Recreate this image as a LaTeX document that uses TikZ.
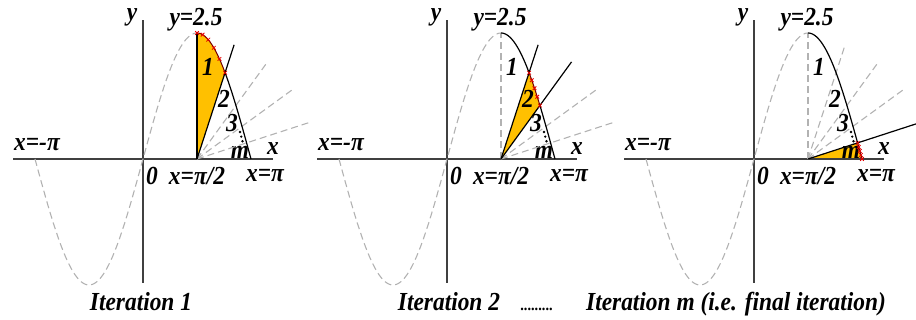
\documentclass[tikz,border=0pt]{standalone}
\usepackage{fontspec}
\setmainfont{Liberation Serif}
\newfontfamily\lblfont{Liberation Serif}[FakeStretch=0.9]
\definecolor{slicefill}{RGB}{255,192,0}

\begin{document}
\begin{tikzpicture}[
    x=0.5pt, y=0.5pt,
    font=\lblfont\bfseries\itshape\fontsize{13}{15}\selectfont,
    every node/.style={inner sep=0pt},
    axis/.style={black!75, line width=0.65pt},
    guide/.style={gray!60, dash pattern=on 3.5pt off 2pt, line width=0.55pt},
    solidline/.style={black, line width=0.6pt},
    hitline/.style={red!45!black, line width=0.5pt},
    hitmarks/.style={red!90!black, only marks, mark=x, mark size=1.3pt,
                     line width=0.4pt},
    slice/.style={fill=slicefill},
    dotcol/.style={black, line width=1.3pt, line cap=round,
                   dash pattern=on 0pt off 2.4pt},
    caption/.style={anchor=base},
]
\pgfdeclarelayer{bg}
\pgfsetlayers{bg,main}
\useasboundingbox (0,0) rectangle (916,320);

% Common parts of the three panels: axes, sine curve, labels
\foreach \p/\ox in {1/143, 2/447, 3/754}{
  \begin{scope}[shift={(\ox,161)}]
    \coordinate (o\p) at (0,0);
    \coordinate (h\p) at (54,0);
    \draw[axis] (-130,0) -- (130,0);
    \draw[axis] (0,-124) -- (0,139);
    \draw[guide] plot[domain=-180:90, samples=100] (\x*0.6, {126*sin(\x)});
    \node (ylab\p) at (-11,142) {y};
    \node (ytop\p) at (53,139) {y=2.5};
    \node (xlab\p) at (130,10) {x};
    \node (xneg\p) at (-106,14) {x=-π};
    \node (zero\p) at (9,-17) {0};
    \node (xhalf\p) at (54,-17) {x=π/2};
    \node (xpi\p) at (122,-17) {x=π};
    \node (n1\p) at (65,92) {1};
    \node (n2\p) at (81,60) {2};
    \node (n3\p) at (89,36) {3};
    \node (nm\p) at (97,7) {m};
    \draw[dotcol] (97,27) -- (100,16);
  \end{scope}
}

% Iteration 1: slice between 90 and 72 degrees
\begin{scope}[shift={(143,161)}]
  \begin{pgfonlayer}{bg}
  \begin{scope}
    \clip (h1) -- +(90:200) -- +(72:200) -- cycle;
    \fill[slice] plot[domain=90:180, samples=60] (\x*0.6, {126*sin(\x)}) -- (h1) -- cycle;
  \end{scope}
  \end{pgfonlayer}
  \draw[guide] (h1) -- +(54:120);
  \draw[guide] (h1) -- +(36:120);
  \draw[guide] (h1) -- +(18:120);
  \draw[solidline] (h1) -- (54,126);
  \draw[solidline] (h1) -- +(72:120);
  \draw[solidline] plot[domain=136.8:180, samples=40] (\x*0.6, {126*sin(\x)});
  \draw[hitline] plot[domain=90:136.8, samples=30] (\x*0.6, {126*sin(\x)});
  \draw[hitmarks] plot[domain=90:136.8, samples=6] (\x*0.6, {126*sin(\x)});
\end{scope}

% Iteration 2: slice between 72 and 54 degrees
\begin{scope}[shift={(447,161)}]
  \begin{pgfonlayer}{bg}
  \begin{scope}
    \clip (h2) -- +(72:200) -- +(54:200) -- cycle;
    \fill[slice] plot[domain=90:180, samples=60] (\x*0.6, {126*sin(\x)}) -- (h2) -- cycle;
  \end{scope}
  \end{pgfonlayer}
  \draw[guide] (h2) -- (54,126);
  \draw[guide] (h2) -- +(36:120);
  \draw[guide] (h2) -- +(18:120);
  \draw[solidline] (h2) -- +(72:120);
  \draw[solidline] (h2) -- +(54:120);
  \draw[solidline] plot[domain=90:136.8, samples=40] (\x*0.6, {126*sin(\x)});
  \draw[solidline] plot[domain=154.9:180, samples=30] (\x*0.6, {126*sin(\x)});
  \draw[hitline] plot[domain=136.8:154.9, samples=20] (\x*0.6, {126*sin(\x)});
  \draw[hitmarks] plot[domain=136.8:154.9, samples=5] (\x*0.6, {126*sin(\x)});
\end{scope}

% Iteration m: last slice between 18 and 0 degrees
\begin{scope}[shift={(754,161)}]
  \begin{pgfonlayer}{bg}
  \begin{scope}
    \clip (h3) -- +(18:200) -- +(0:200) -- cycle;
    \fill[slice] plot[domain=90:180, samples=60] (\x*0.6, {126*sin(\x)}) -- (h3) -- cycle;
  \end{scope}
  \end{pgfonlayer}
  \draw[guide] (h3) -- (54,126);
  \draw[guide] (h3) -- +(72:120);
  \draw[guide] (h3) -- +(54:120);
  \draw[guide] (h3) -- +(36:120);
  \draw[solidline] (h3) -- +(18:120);
  \draw[solidline] plot[domain=90:172.7, samples=60] (\x*0.6, {126*sin(\x)});
  \draw[hitline] plot[domain=172.7:180, samples=10] (\x*0.6, {126*sin(\x)});
  \draw[hitmarks] plot[domain=172.7:180, samples=5] (\x*0.6, {126*sin(\x)});
\end{scope}

% Captions
\node[caption] (cap1) at (141,9) {Iteration 1};
\node[caption] (cap2) at (449,9) {Iteration 2};
\node[caption] (dots) at (537,9) {\fontsize{8}{9}\selectfont .........};
\node[caption] (cap3) at (736,9) {Iteration m (i.e. final iteration)};
\end{tikzpicture}
\end{document}
